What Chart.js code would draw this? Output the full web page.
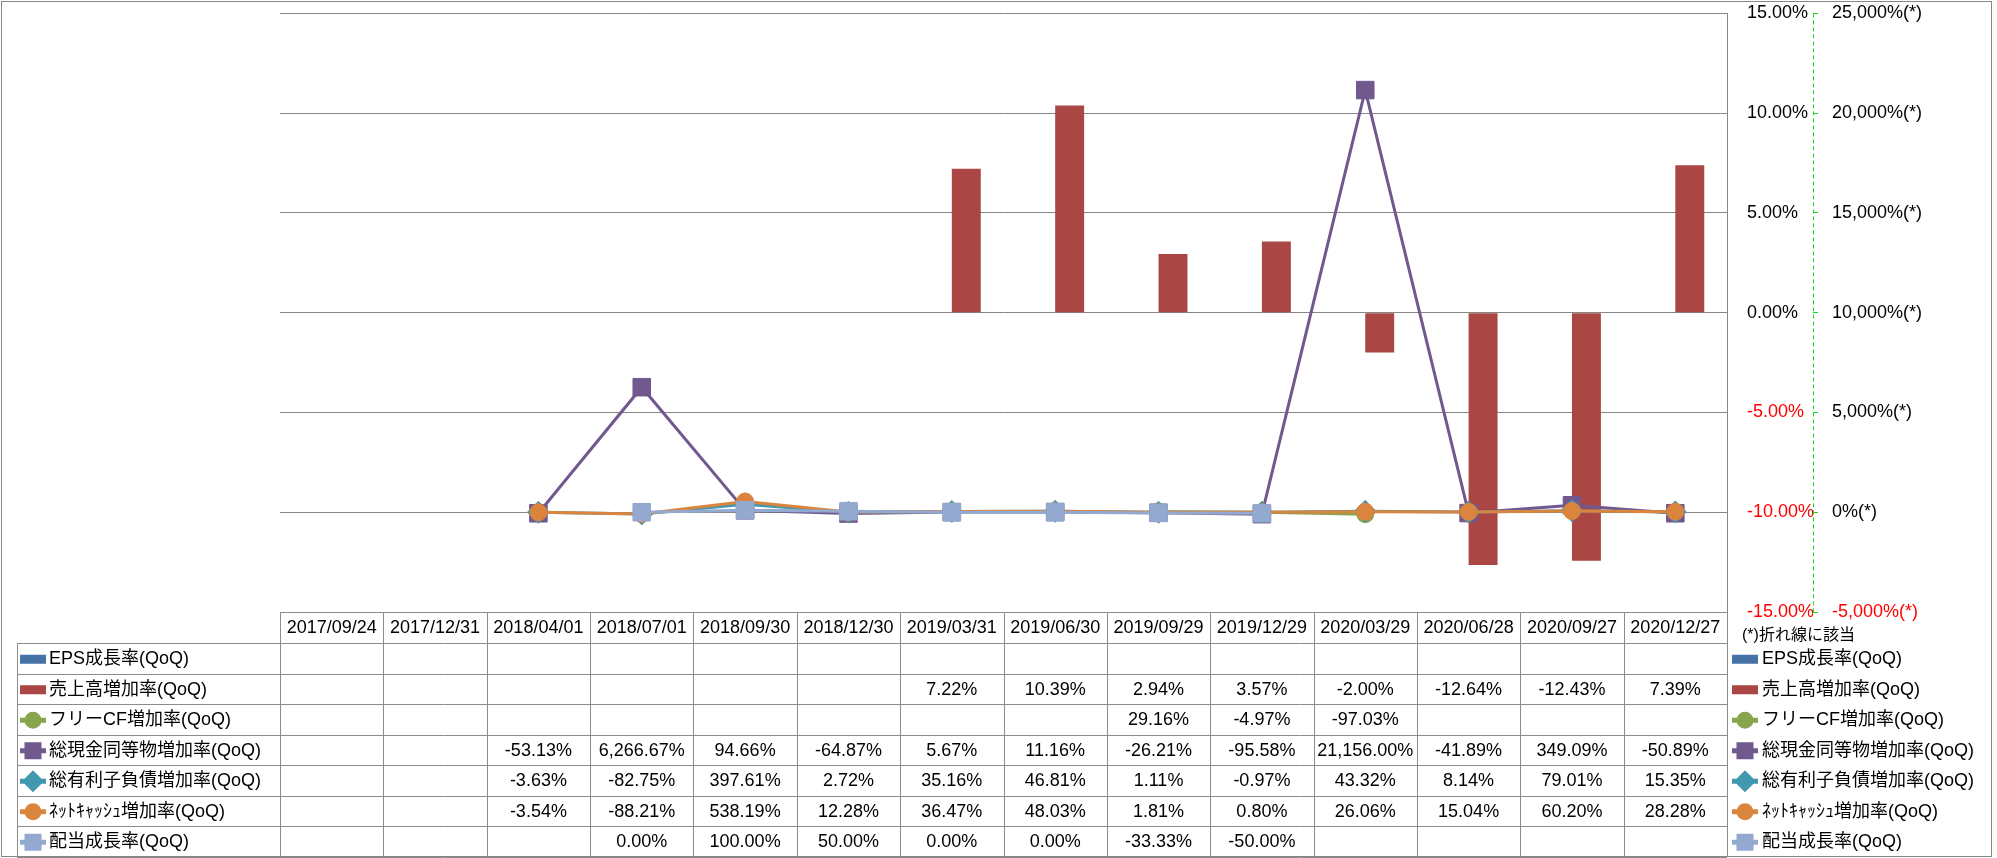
<!DOCTYPE html>
<html>
<head>
<meta charset="utf-8">
<script src="https://cdn.jsdelivr.net/npm/chart.js@4.4.1/dist/chart.umd.min.js"></script>
<style>
  html, body { margin: 0; padding: 0; background: #fff; }
  #wrap { width: 1997px; height: 858px; }
</style>
</head>
<body>
<div id="wrap"><canvas id="growthChart" width="1997" height="858"></canvas></div>
<script>
const periods = ['2017/09/24', '2017/12/31', '2018/04/01', '2018/07/01', '2018/09/30', '2018/12/30', '2019/03/31',
  '2019/06/30', '2019/09/29', '2019/12/29', '2020/03/29', '2020/06/28', '2020/09/27', '2020/12/27'];

const epsGrowth = [null, null, null, null, null, null, null, null, null, null, null, null, null, null];
const salesGrowth = [null, null, null, null, null, null, 7.22, 10.39, 2.94, 3.57, -2.00, -12.64, -12.43, 7.39];
const freeCfGrowth = [null, null, null, null, null, null, null, null, 29.16, -4.97, -97.03, null, null, null];
const cashGrowth = [null, null, -53.13, 6266.67, 94.66, -64.87, 5.67, 11.16, -26.21, -95.58, 21156.00, -41.89, 349.09, -50.89];
const debtGrowth = [null, null, -3.63, -82.75, 397.61, 2.72, 35.16, 46.81, 1.11, -0.97, 43.32, 8.14, 79.01, 15.35];
const netCashGrowth = [null, null, -3.54, -88.21, 538.19, 12.28, 36.47, 48.03, 1.81, 0.80, 26.06, 15.04, 60.20, 28.28];
const dividendGrowth = [null, null, null, 0.00, 100.00, 50.00, 0.00, 0.00, -33.33, -50.00, null, null, null, null];

const barAxisTicks = [-15, -10, -5, 0, 5, 10, 15];
const lineAxisTicks = [-5000, 0, 5000, 10000, 15000, 20000, 25000];

const FONT = '"Liberation Sans", "Noto Sans CJK JP", sans-serif';
const GRID = '#868686';
const GREEN = '#1ed81e';

// series in table order
const series = [
  { name: 'EPS成長率(QoQ)', data: epsGrowth, type: 'bar', color: '#4572A7' },
  { name: '売上高増加率(QoQ)', data: salesGrowth, type: 'bar', color: '#AA4643' },
  { name: 'フリーCF増加率(QoQ)', data: freeCfGrowth, type: 'line', color: '#89A54E', point: 'circle', r: 8.5, kr: 6 },
  { name: '総現金同等物増加率(QoQ)', data: cashGrowth, type: 'line', color: '#71588F', point: 'rect', r: 12.4, kr: 8.5 },
  { name: '総有利子負債増加率(QoQ)', data: debtGrowth, type: 'line', color: '#4198AF', point: 'rectRot', r: 11, kr: 7.5 },
  { name: 'ﾈｯﾄｷｬｯｼｭ増加率(QoQ)', data: netCashGrowth, type: 'line', color: '#DB843D', point: 'circle', r: 8.5, kr: 6 },
  { name: '配当成長率(QoQ)', data: dividendGrowth, type: 'line', color: '#93A9CF', point: 'rect', r: 12.4, kr: 8.5 }
];

function fmtPct(v) {
  return v.toLocaleString('en-US', { minimumFractionDigits: 2, maximumFractionDigits: 2 }) + '%';
}

function drawKey(ctx, s, x, y) {
  ctx.save();
  if (s.type === 'bar') {
    ctx.fillStyle = s.color;
    ctx.fillRect(x, y - 4.5, 26, 9);
  } else {
    ctx.strokeStyle = s.color;
    ctx.fillStyle = s.color;
    ctx.lineWidth = 5;
    ctx.beginPath();
    ctx.moveTo(x, y);
    ctx.lineTo(x + 26, y);
    ctx.stroke();
    Chart.helpers.drawPoint(ctx, { pointStyle: s.point, radius: s.kr, borderWidth: 1, rotation: 0 }, x + 13, y);
  }
  ctx.restore();
}

const tablePlugin = {
  id: 'dataTable',
  afterDraw(chart) {
    const { ctx, chartArea, scales } = chart;
    const left = chartArea.left, right = chartArea.right;
    const colW = (right - left) / periods.length;
    const headTop = chartArea.bottom;
    const headBottom = headTop + 31;
    const rowH = 30.5;
    const tableLeft = 17;
    const bottom = headBottom + rowH * series.length;
    const px = v => Math.round(v) + 0.5;

    ctx.save();
    // dashed green line of the secondary axis
    ctx.strokeStyle = GREEN;
    ctx.lineWidth = 1;
    ctx.setLineDash([4, 3]);
    ctx.beginPath();
    ctx.moveTo(px(scales.y2.left), chartArea.top);
    ctx.lineTo(px(scales.y2.left), chartArea.bottom);
    ctx.stroke();
    ctx.setLineDash([]);

    ctx.strokeStyle = '#8c8c8c';
    ctx.beginPath();
    ctx.moveTo(left, px(headTop)); ctx.lineTo(right, px(headTop));
    for (let r = 0; r <= series.length; r++) {
      const y = px(headBottom + r * rowH);
      ctx.moveTo(tableLeft, y); ctx.lineTo(right, y);
    }
    for (let c = 0; c <= periods.length; c++) {
      const x = px(left + c * colW);
      ctx.moveTo(x, headTop); ctx.lineTo(x, bottom);
    }
    ctx.moveTo(px(tableLeft), headBottom); ctx.lineTo(px(tableLeft), bottom);
    ctx.stroke();

    ctx.fillStyle = '#000';
    ctx.font = '18px ' + FONT;
    ctx.textBaseline = 'middle';
    ctx.textAlign = 'center';
    periods.forEach((p, c) => ctx.fillText(p, left + (c + 0.5) * colW, headTop + 16));

    series.forEach((s, r) => {
      const cy = headBottom + (r + 0.5) * rowH + 1;
      ctx.textAlign = 'center';
      ctx.fillStyle = '#000';
      s.data.forEach((v, c) => {
        if (v !== null) ctx.fillText(fmtPct(v), left + (c + 0.5) * colW, cy);
      });
      drawKey(ctx, s, 20, cy);
      drawKey(ctx, s, 1732, cy);
      ctx.textAlign = 'left';
      ctx.fillStyle = '#000';
      ctx.fillText(s.name, 49, cy);
      ctx.fillText(s.name, 1762, cy);
    });

    ctx.font = '16px ' + FONT;
    ctx.textAlign = 'left';
    ctx.fillText('(*)折れ線に該当', 1742, 636);

    ctx.strokeStyle = GRID;
    ctx.strokeRect(1.5, 1.5, 1990, 855);
    ctx.restore();
  }
};

Chart.defaults.font.family = FONT;
Chart.defaults.font.size = 18;
Chart.defaults.color = '#000';

const datasets = series.map((s, i) => {
  if (s.type === 'bar') {
    return {
      type: 'bar', label: s.name, data: s.data, yAxisID: 'y',
      backgroundColor: s.color, borderWidth: 0,
      categoryPercentage: 0.56, barPercentage: 1.0, order: 20 + i
    };
  }
  return {
    type: 'line', label: s.name, data: s.data, yAxisID: 'y2',
    borderColor: s.color, backgroundColor: s.color, borderWidth: 3,
    pointStyle: s.point, pointRadius: s.r, pointBorderWidth: 1,
    pointBackgroundColor: s.color, pointBorderColor: s.color,
    tension: 0, spanGaps: false, order: 10 - i
  };
});

// keep tick padding from shrinking the plot vertically
function fixAxis(width) {
  return s => { s.width = width; s.paddingTop = 10; s.paddingBottom = 10; };
}

new Chart(document.getElementById('growthChart'), {
  data: { labels: periods, datasets: datasets },
  options: {
    responsive: false,
    animation: false,
    layout: { padding: { left: 280, right: 14, top: 13, bottom: 246 } },
    plugins: { legend: { display: false }, tooltip: { enabled: false } },
    scales: {
      x: { type: 'category', display: false, offset: true },
      y: {
        type: 'linear', position: 'right', weight: 0,
        min: barAxisTicks[0], max: barAxisTicks[barAxisTicks.length - 1],
        ticks: {
          stepSize: barAxisTicks[1] - barAxisTicks[0], padding: 20,
          font: { size: 18 },
          color: c => c.tick.value < 0 ? '#ff0000' : '#000',
          callback: v => v.toFixed(2) + '%'
        },
        grid: { color: GRID, drawTicks: false },
        border: { display: true, color: GRID },
        afterFit: fixAxis(86)
      },
      y2: {
        type: 'linear', position: 'right', weight: 1,
        min: lineAxisTicks[0], max: lineAxisTicks[lineAxisTicks.length - 1],
        ticks: {
          stepSize: lineAxisTicks[1] - lineAxisTicks[0], padding: 14,
          font: { size: 18 },
          color: c => c.tick.value < 0 ? '#ff0000' : '#000',
          callback: v => v.toLocaleString('en-US') + '%(*)'
        },
        grid: { drawOnChartArea: false, color: GREEN, tickLength: 5 },
        border: { display: false },
        afterFit: fixAxis(170)
      }
    }
  },
  plugins: [tablePlugin]
});
</script>
</body>
</html>
